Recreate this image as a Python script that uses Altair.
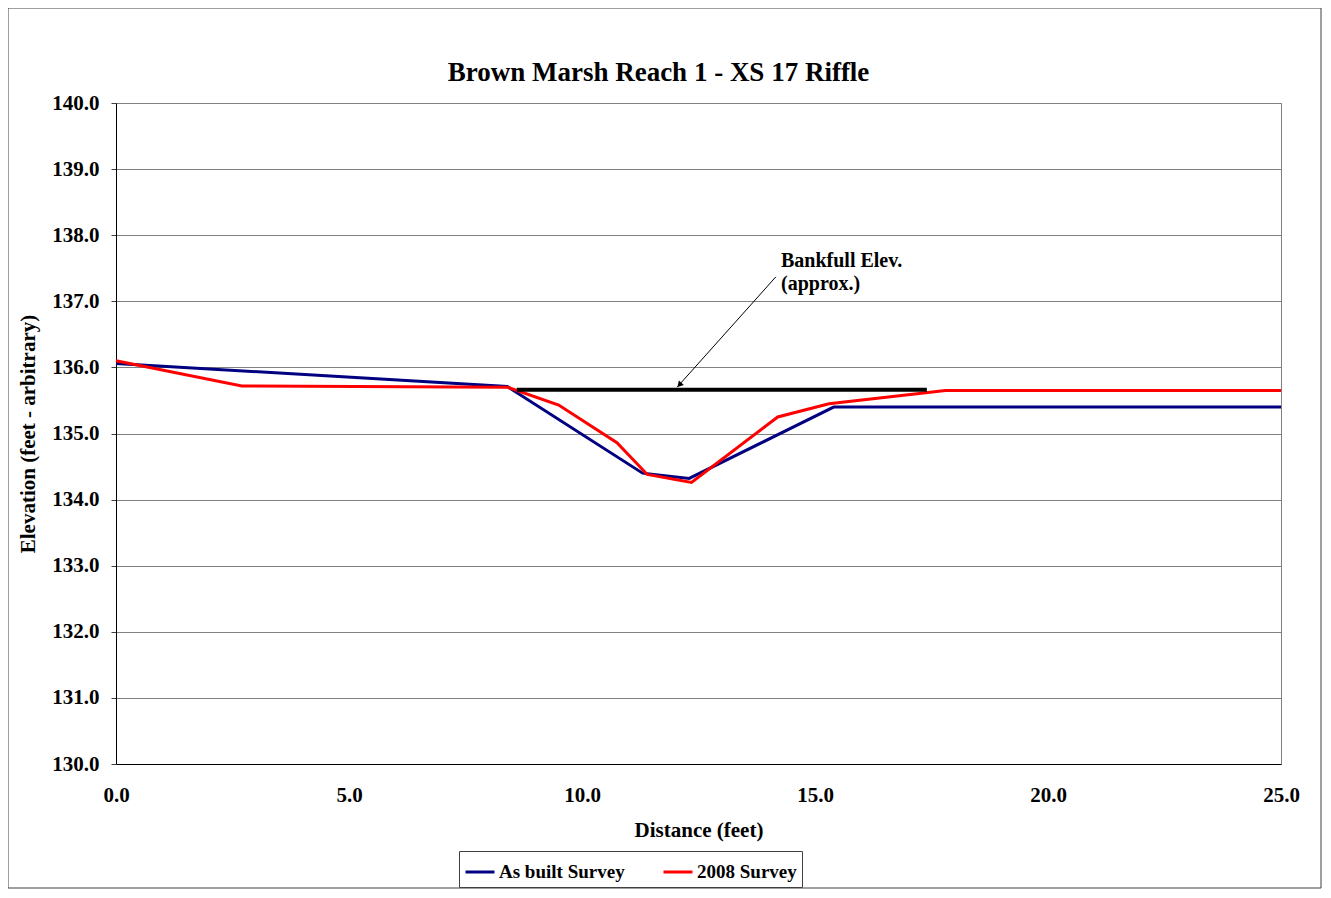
import altair as alt
import pandas as pd

# ---- data ----
asbuilt_x = [0.0, 8.4, 11.3, 12.3, 15.4, 25.0]
asbuilt_y = [136.06, 135.71, 134.40, 134.32, 135.40, 135.40]

survey_x = [0.0, 2.7, 8.4, 9.5, 10.75, 11.4, 12.35, 14.2, 15.3, 17.8, 25.0]
survey_y = [136.10, 135.72, 135.70, 135.43, 134.86, 134.38, 134.26, 135.25, 135.45, 135.65, 135.65]

series_names = ["As built Survey", "2008 Survey"]
series_colors = ["#000080", "#FF0000"]

bankfull_x = [8.6, 17.4]
bankfull_y = [135.66, 135.66]

arrow_from = [14.16, 137.37]
arrow_to = [12.04, 135.70]
note_pos = [14.27, 137.52]
note_text = ["Bankfull Elev.", "(approx.)"]

x_ticks = [0, 5, 10, 15, 20, 25]
y_ticks = [130, 131, 132, 133, 134, 135, 136, 137, 138, 139, 140]

FONT = "Liberation Serif"

rows = []
for xv, yv in zip(asbuilt_x, asbuilt_y):
    rows.append({"x": xv, "y": yv, "series": series_names[0], "o": len(rows)})
for xv, yv in zip(survey_x, survey_y):
    rows.append({"x": xv, "y": yv, "series": series_names[1], "o": len(rows)})
df = pd.DataFrame(rows)

xscale = alt.Scale(domain=[0, 25], nice=False, zero=False)
yscale = alt.Scale(domain=[130, 140], nice=False, zero=False)

x_enc = alt.X("x:Q", scale=xscale,
              axis=alt.Axis(values=x_ticks, format=".1f", title="Distance (feet)",
                            grid=False, ticks=False, labelPadding=20, titlePadding=14,
                            labelFlush=False, domainColor="black"))
y_enc = alt.Y("y:Q", scale=yscale,
              axis=alt.Axis(values=y_ticks, format=".1f", title="Elevation (feet - arbitrary)",
                            grid=True, gridColor="#808080", tickSize=5, tickColor="#404040",
                            labelPadding=12, titlePadding=13, labelFlush=False,
                            domainColor="black"))

lines = alt.Chart(df).mark_line(strokeWidth=3).encode(
    x=x_enc,
    y=y_enc,
    order="o:Q",
    color=alt.Color("series:N",
                    scale=alt.Scale(domain=series_names, range=series_colors),
                    sort=series_names,
                    legend=alt.Legend(title=None, orient="none", legendX=343, legendY=748,
                                      direction="horizontal", symbolType="stroke",
                                      symbolSize=841, symbolStrokeWidth=3,
                                      labelFont=FONT, labelFontSize=19, labelFontWeight="bold",
                                      labelColor="black", labelOffset=3, columnPadding=32,
                                      padding=5, strokeColor="#404040", fillColor="white")),
)

bank_df = pd.DataFrame({"x": [bankfull_x[0]], "x2": [bankfull_x[1]], "y": [bankfull_y[0]]})
bank = alt.Chart(bank_df).mark_rule(color="black", strokeWidth=4).encode(
    x=alt.X("x:Q", scale=xscale), x2="x2:Q", y=alt.Y("y:Q", scale=yscale))

arrow_df = pd.DataFrame({"x": [arrow_from[0]], "y": [arrow_from[1]],
                         "x2": [arrow_to[0]], "y2": [arrow_to[1]]})
arrow = alt.Chart(arrow_df).mark_rule(color="black", strokeWidth=1).encode(
    x=alt.X("x:Q", scale=xscale), y=alt.Y("y:Q", scale=yscale), x2="x2:Q", y2="y2:Q")

head_df = pd.DataFrame({"x": [arrow_to[0]], "y": [arrow_to[1]]})
head = alt.Chart(head_df).mark_point(shape="triangle", filled=True, color="black",
                                     size=45, angle=222, opacity=1, yOffset=-3, xOffset=3).encode(
    x=alt.X("x:Q", scale=xscale), y=alt.Y("y:Q", scale=yscale))

note_df = pd.DataFrame({"x": [note_pos[0]], "y": [note_pos[1]], "t": [note_text]})
note = alt.Chart(note_df).mark_text(align="left", baseline="alphabetic", font=FONT,
                                    fontSize=20, fontWeight="bold", lineHeight=23,
                                    color="black").encode(
    x=alt.X("x:Q", scale=xscale), y=alt.Y("y:Q", scale=yscale), text="t")

frame_df = pd.DataFrame({"a": [0]})
frame = alt.Chart(frame_df).mark_rect(fill=None, stroke="#404040", strokeWidth=1, clip=False).encode(
    x=alt.value(-108), x2=alt.value(1205), y=alt.value(-95), y2=alt.value(785))

chart = alt.layer(frame, lines, bank, arrow, head, note).properties(
    width=1165, height=661,
    background="white",
    title=alt.Title("Brown Marsh Reach 1 - XS 17 Riffle", font=FONT, fontSize=27,
                    fontWeight="bold", color="black", anchor="middle", dx=-40,
                    offset=0, dy=79),
    autosize=alt.AutoSizeParams(type="none"),
    padding={"left": 108, "top": 95, "right": 42, "bottom": 126},
).configure_view(stroke="#808080", strokeWidth=1).configure_axis(
    labelFont=FONT, labelFontSize=21, labelFontWeight="bold", labelColor="black",
    titleFont=FONT, titleFontSize=21, titleFontWeight="bold", titleColor="black",
)

chart.save("out.html", embed_options={"renderer": "svg", "actions": False})
